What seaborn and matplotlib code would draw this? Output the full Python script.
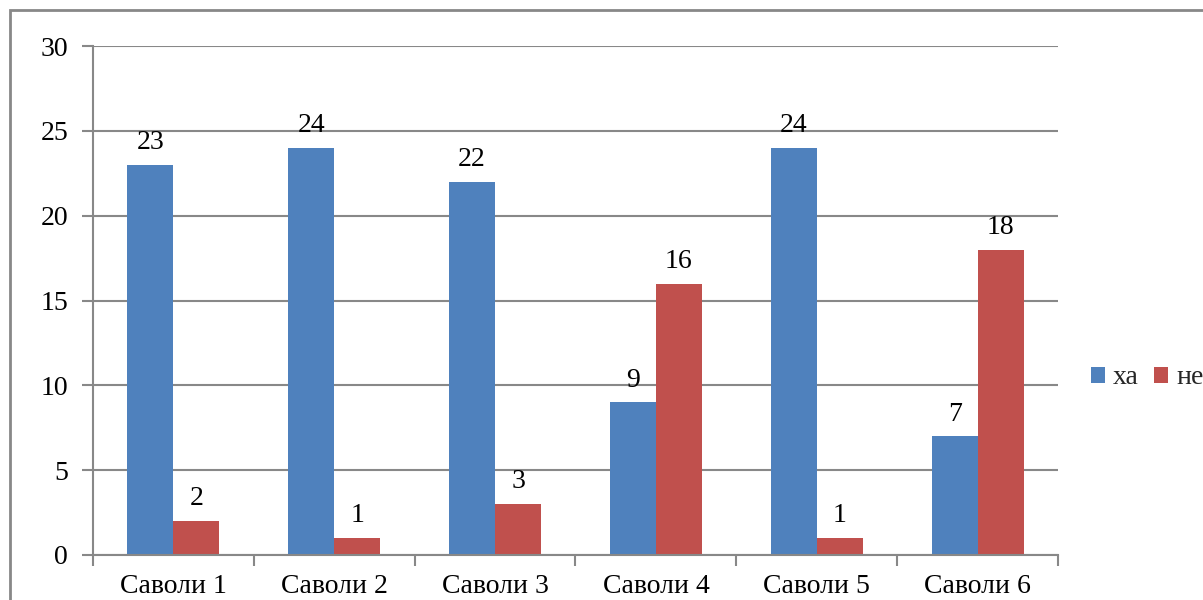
import matplotlib
matplotlib.use("Agg")
import matplotlib.pyplot as plt
from matplotlib import font_manager
import seaborn as sns
import pandas as pd
from matplotlib.patches import Rectangle
from matplotlib.ticker import FixedLocator

categories = ["Саволи 1", "Саволи 2", "Саволи 3", "Саволи 4", "Саволи 5", "Саволи 6"]
series_names = ["ха", "не"]
yes_values = [23, 24, 22, 9, 24, 7]
no_values = [2, 1, 3, 16, 1, 18]
colors = ["#4F81BD", "#C0504D"]

df = pd.DataFrame({
    "cat": categories * 2,
    "series": [series_names[0]] * len(categories) + [series_names[1]] * len(categories),
    "val": yes_values + no_values,
})

sns.set_theme(style="white")
FAM = ["Liberation Serif", "DejaVu Serif"]
plt.rcParams["font.family"] = FAM

FS = 20

fig = plt.figure(figsize=(12.03, 6.0), dpi=100)
ax = fig.add_axes([93/1203, 1-555/600, (1058-93)/1203, (555-46)/600])

sns.barplot(data=df, x="cat", y="val", hue="series", palette=colors,
            width=0.572, gap=0, ax=ax, saturation=1, legend=True, linewidth=0)

for cont in ax.containers:
    ax.bar_label(cont, fmt="%d", padding=7, fontsize=FS, color="black", family=FAM)

ax.set_xlim(-0.5, len(categories) - 0.5)
ax.set_ylim(0, 30)
ax.set_yticks(range(0, 31, 5))
ax.yaxis.grid(True, color="#888888", linewidth=1.5)
ax.set_axisbelow(True)
ax.set_xlabel("")
ax.set_ylabel("")

for s in ["top", "right"]:
    ax.spines[s].set_visible(False)
for s in ["left", "bottom"]:
    ax.spines[s].set_color("#888888")
    ax.spines[s].set_linewidth(1.5)

ax.tick_params(axis="y", which="major", left=True, length=8, width=1.5, color="#888888",
               pad=10, labelsize=FS, labelcolor="black")
ax.tick_params(axis="x", which="major", length=0, pad=14, labelsize=FS, labelcolor="black")
ax.xaxis.set_minor_locator(FixedLocator([i - 0.5 for i in range(len(categories) + 1)]))
ax.tick_params(axis="x", which="minor", bottom=True, length=8, width=1.5, color="#888888")
for lab in ax.get_xticklabels() + ax.get_yticklabels():
    lab.set_family(FAM)

handles, labels = ax.get_legend_handles_labels()
ax.legend(handles, labels, loc="center left", bbox_to_anchor=(1091/1203, 1-378/600),
          bbox_transform=fig.transFigure, ncol=2, frameon=False,
          prop={"family": FAM, "size": FS},
          handlelength=0.5, handleheight=0.5, handletextpad=0.3, columnspacing=0.55,
          borderaxespad=0, borderpad=0)

fig.add_artist(Rectangle((10/1203, -0.5), 2.0, 1.5 - 10/600, transform=fig.transFigure,
                         fill=False, edgecolor="#888888", linewidth=2))

fig.savefig("out.png", dpi=100)
